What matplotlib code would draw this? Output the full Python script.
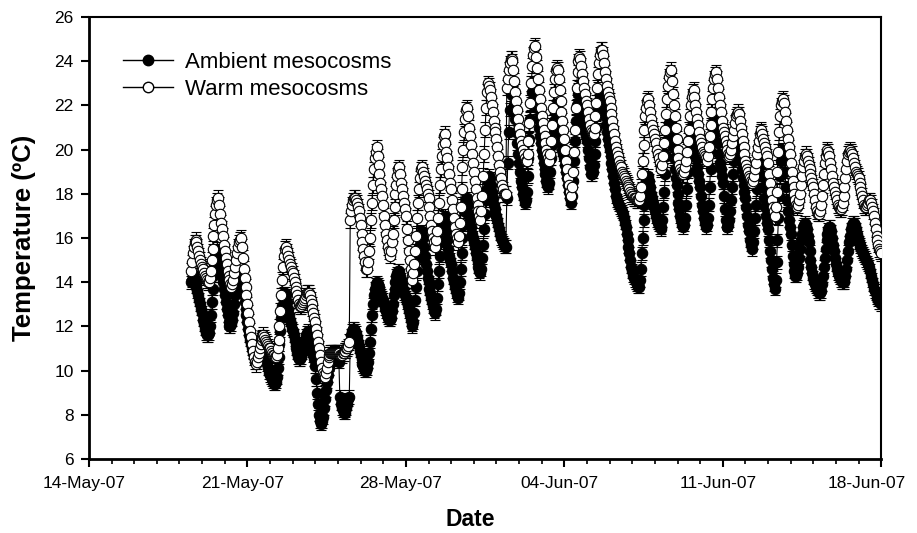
import numpy as np
import pandas as pd
import matplotlib
matplotlib.use("Agg")
import matplotlib.pyplot as plt
import matplotlib.dates as mdates
import matplotlib.transforms as mtransforms
from matplotlib.lines import Line2D

plt.rcParams['font.family'] = ['Liberation Sans', 'DejaVu Sans']

# ============================================================
# DATA  (hourly means; first value 18-May-07 12:00)
# ============================================================
start_time = "2007-05-18 12:00"

ambient = [
    14.0, 14.1, 14.2, 14.2, 14.1, 14.0, 13.8, 13.6, 13.4, 13.2, 13.0, 12.8,  # 18 May (12-23h)
    12.6, 12.3, 12.1, 11.9, 11.7, 11.6, 11.6, 11.7, 12.0, 12.5, 13.1, 13.7, 14.3, 14.8, 15.2, 15.4, 15.5, 15.4, 15.2, 14.9, 14.6, 14.3, 14.0, 13.7,  # 19 May
    13.4, 13.1, 12.8, 12.5, 12.2, 12.0, 12.0, 12.1, 12.3, 12.6, 13.0, 13.4, 13.7, 14.0, 14.2, 14.3, 14.3, 14.2, 14.0, 13.7, 13.4, 13.1, 12.8, 12.5,  # 20 May
    12.2, 11.9, 11.6, 11.4, 11.2, 11.0, 10.8, 10.7, 10.6, 10.6, 10.7, 10.9, 11.1, 11.3, 11.4, 11.5, 11.5, 11.4, 11.2, 10.9, 10.6, 10.3, 10.1, 9.9,  # 21 May
    9.8, 9.7, 9.6, 9.5, 9.4, 9.4, 9.5, 9.7, 10.1, 10.6, 11.2, 11.8, 12.4, 12.9, 13.3, 13.5, 13.5, 13.4, 13.1, 12.8, 12.5, 12.3, 12.1, 11.9,  # 22 May
    11.8, 11.6, 11.4, 11.2, 11.0, 10.8, 10.6, 10.5, 10.5, 10.6, 10.8, 11.0, 11.2, 11.4, 11.6, 11.7, 11.8, 11.7, 11.5, 11.3, 11.1, 10.9, 10.7, 10.5,  # 23 May
    10.2, 9.6, 9.0, 8.5, 8.0, 7.7, 7.6, 7.7, 7.9, 8.3, 8.7, 9.1, 9.5, 9.8, 10.1, 10.3, 10.5, 10.6, 10.6, 10.6, 10.6, 10.6, 10.5, 10.5,  # 24 May
    10.5, 10.4, 8.8, 8.5, 8.3, 8.2, 8.1, 8.1, 8.2, 8.3, 8.5, 8.7, 8.8, 11.3, 11.6, 11.8, 11.9, 11.9, 11.8, 11.7, 11.5, 11.3, 11.1, 10.9,  # 25 May
    10.7, 10.5, 10.3, 10.2, 10.1, 10.0, 10.0, 10.1, 10.4, 10.8, 11.3, 11.9, 12.5, 13.0, 13.4, 13.7, 13.9, 14.0, 13.9, 13.8, 13.6, 13.5, 13.4, 13.3,  # 26 May
    13.2, 13.0, 12.8, 12.7, 12.5, 12.4, 12.3, 12.3, 12.4, 12.7, 13.0, 13.4, 13.7, 14.0, 14.3, 14.4, 14.5, 14.5, 14.3, 14.1, 13.9, 13.7, 13.5, 13.4,  # 27 May
    13.3, 13.1, 12.9, 12.7, 12.5, 12.3, 12.1, 12.0, 12.2, 12.6, 13.2, 13.8, 14.5, 15.1, 15.6, 16.0, 16.2, 16.3, 16.0, 15.6, 15.2, 14.8, 14.5, 14.2,  # 28 May
    14.0, 13.7, 13.5, 13.3, 13.1, 12.9, 12.7, 12.6, 12.8, 13.3, 13.9, 14.5, 15.2, 15.8, 16.4, 16.7, 16.9, 17.0, 16.7, 16.3, 15.9, 15.5, 15.2, 15.0,  # 29 May
    14.8, 14.5, 14.2, 14.0, 13.8, 13.6, 13.4, 13.3, 13.5, 14.0, 14.6, 15.3, 16.0, 16.6, 17.2, 17.5, 17.7, 17.8, 17.5, 17.1, 16.8, 16.5, 16.2, 16.0,  # 30 May
    15.8, 15.6, 15.3, 15.1, 14.9, 14.7, 14.5, 14.4, 14.6, 15.1, 15.7, 16.4, 17.1, 17.7, 18.2, 18.6, 18.8, 18.7, 18.4, 18.1, 17.8, 17.5, 17.3, 17.1,  # 31 May
    17.0, 16.8, 16.6, 16.4, 16.2, 16.0, 15.9, 15.8, 15.7, 15.6, 15.6, 17.8, 19.4, 20.8, 21.8, 22.5, 22.9, 23.0, 22.6, 22.0, 21.4, 20.8, 20.3, 19.8,  # 01 Jun
    19.4, 19.0, 18.6, 18.3, 18.0, 17.8, 17.6, 17.7, 18.1, 18.8, 19.6, 20.5, 21.4, 22.1, 22.6, 22.9, 23.0, 22.8, 22.4, 21.9, 21.4, 21.0, 20.6, 20.3,  # 02 Jun
    20.0, 19.7, 19.4, 19.1, 18.9, 18.6, 18.4, 18.3, 18.5, 19.0, 19.6, 20.2, 20.8, 21.3, 21.7, 21.9, 22.0, 21.8, 21.4, 21.0, 20.6, 20.3, 20.0, 19.8,  # 03 Jun
    19.6, 19.3, 19.0, 18.7, 18.4, 18.1, 17.8, 17.6, 17.9, 18.6, 19.5, 20.4, 21.3, 22.0, 22.5, 22.7, 22.8, 22.6, 22.2, 21.8, 21.4, 21.1, 20.8, 20.6,  # 04 Jun
    20.4, 20.0, 19.6, 19.2, 18.9, 18.9, 19.0, 19.3, 19.8, 20.4, 21.0, 21.5, 21.9, 22.2, 22.4, 22.5, 22.4, 22.2, 21.9, 21.5, 21.1, 20.8, 20.5, 20.2,  # 05 Jun
    20.0, 19.7, 19.4, 19.1, 18.8, 18.5, 18.2, 17.9, 17.7, 17.6, 17.5, 17.4, 17.3, 17.2, 17.1, 16.9, 16.7, 16.5, 16.2, 15.9, 15.6, 15.3, 15.0, 14.7,  # 06 Jun
    14.5, 14.3, 14.2, 14.1, 14.0, 13.9, 13.8, 13.8, 14.1, 14.6, 15.3, 16.0, 16.8, 17.5, 18.0, 18.4, 18.7, 18.8, 18.6, 18.3, 18.0, 17.8, 17.6, 17.4,  # 07 Jun
    17.2, 17.0, 16.8, 16.7, 16.6, 16.5, 16.4, 16.5, 16.8, 17.4, 18.1, 18.9, 19.7, 20.4, 20.9, 21.2, 21.3, 21.1, 20.6, 20.1, 19.6, 19.1, 18.7, 18.4,  # 08 Jun
    18.0, 17.6, 17.3, 17.0, 16.8, 16.6, 16.5, 16.6, 16.9, 17.5, 18.2, 19.0, 19.7, 20.3, 20.7, 20.9, 21.0, 20.8, 20.4, 20.0, 19.6, 19.2, 18.9, 18.6,  # 09 Jun
    18.3, 17.9, 17.5, 17.2, 16.9, 16.7, 16.5, 16.6, 16.9, 17.5, 18.3, 19.1, 19.9, 20.6, 21.1, 21.4, 21.5, 21.3, 20.8, 20.3, 19.8, 19.4, 19.1, 18.8,  # 10 Jun
    18.5, 17.9, 17.3, 16.8, 16.5, 16.5, 16.6, 16.8, 17.2, 17.7, 18.3, 18.9, 19.5, 19.9, 20.2, 20.4, 20.5, 20.3, 19.9, 19.5, 19.1, 18.7, 18.4, 18.1,  # 11 Jun
    17.8, 17.4, 17.0, 16.6, 16.3, 15.9, 15.7, 15.5, 15.8, 16.3, 16.9, 17.5, 18.2, 18.8, 19.2, 19.4, 19.5, 19.3, 18.8, 18.3, 17.8, 17.4, 17.0, 16.7,  # 12 Jun
    16.4, 15.9, 15.4, 15.0, 14.6, 14.2, 13.9, 13.7, 14.1, 14.9, 15.9, 16.9, 17.9, 18.8, 19.5, 19.9, 20.0, 19.6, 19.0, 18.3, 17.7, 17.2, 16.8, 16.5,  # 13 Jun
    16.2, 15.7, 15.2, 14.8, 14.5, 14.3, 14.3, 14.4, 14.7, 15.1, 15.5, 15.9, 16.2, 16.5, 16.6, 16.7, 16.6, 16.4, 16.1, 15.8, 15.4, 15.0, 14.7, 14.4,  # 14 Jun
    14.2, 14.0, 13.9, 13.8, 13.7, 13.6, 13.5, 13.5, 13.6, 13.9, 14.3, 14.7, 15.1, 15.5, 15.9, 16.2, 16.4, 16.5, 16.5, 16.3, 16.0, 15.7, 15.4, 15.1,  # 15 Jun
    14.8, 14.6, 14.4, 14.3, 14.2, 14.1, 14.0, 14.0, 14.0, 14.1, 14.3, 14.6, 15.0, 15.4, 15.8, 16.1, 16.4, 16.6, 16.7, 16.7, 16.6, 16.4, 16.2, 16.0,  # 16 Jun
    15.8, 15.7, 15.6, 15.5, 15.4, 15.3, 15.2, 15.1, 15.0, 14.9, 14.8, 14.7, 14.5, 14.3, 14.1, 13.9, 13.7, 13.6, 13.5, 13.4, 13.3, 13.2, 13.1, 13.1,  # 17 Jun
    13.0,  # 18 Jun 00h
]

warm = [
    14.5, 14.9, 15.3, 15.6, 15.8, 15.9, 15.8, 15.6, 15.4, 15.2, 15.0, 14.8,  # 18 May (12-23h)
    14.7, 14.6, 14.4, 14.3, 14.2, 14.1, 14.0, 14.0, 14.2, 14.5, 15.0, 15.5, 16.1, 16.6, 17.1, 17.5, 17.7, 17.8, 17.5, 17.1, 16.7, 16.4, 16.1, 15.7,  # 19 May
    15.4, 15.1, 14.8, 14.5, 14.3, 14.1, 13.9, 13.8, 13.9, 14.1, 14.4, 14.7, 15.0, 15.3, 15.6, 15.8, 15.9, 16.0, 15.6, 15.1, 14.6, 14.2, 13.8, 13.4,  # 20 May
    13.0, 12.6, 12.2, 11.8, 11.5, 11.2, 10.9, 10.6, 10.4, 10.3, 10.4, 10.6, 10.8, 11.0, 11.2, 11.4, 11.5, 11.6, 11.5, 11.4, 11.3, 11.2, 11.1, 11.0,  # 21 May
    11.0, 10.9, 10.8, 10.7, 10.7, 10.6, 10.6, 10.7, 11.0, 11.4, 12.0, 12.7, 13.4, 14.1, 14.7, 15.2, 15.5, 15.6, 15.4, 15.2, 15.0, 14.8, 14.7, 14.5,  # 22 May
    14.4, 14.2, 14.0, 13.8, 13.6, 13.4, 13.2, 13.0, 12.9, 12.9, 13.0, 13.1, 13.2, 13.3, 13.4, 13.5, 13.5, 13.5, 13.4, 13.2, 13.0, 12.8, 12.6, 12.4,  # 23 May
    12.2, 11.9, 11.6, 11.3, 11.0, 10.7, 10.4, 10.1, 9.9, 9.8, 9.7, 9.9, 10.1, 10.4, 10.6, 10.7, 10.8, 10.8, 10.8, 10.8, 10.8, 10.8, 10.8, 10.8,  # 24 May
    10.8, 10.8, 10.7, 10.7, 10.7, 10.8, 10.8, 10.9, 10.9, 11.0, 11.0, 11.1, 11.3, 16.8, 17.2, 17.5, 17.7, 17.8, 17.8, 17.7, 17.6, 17.4, 17.2, 16.9,  # 25 May
    16.6, 16.2, 15.8, 15.5, 15.2, 14.9, 14.6, 14.6, 14.9, 15.4, 16.0, 16.8, 17.6, 18.4, 19.1, 19.6, 19.9, 20.1, 19.7, 19.3, 18.9, 18.5, 18.2, 17.9,  # 26 May
    17.5, 17.0, 16.6, 16.2, 15.9, 15.6, 15.4, 15.2, 15.4, 15.8, 16.2, 16.8, 17.4, 18.0, 18.4, 18.8, 19.1, 19.2, 18.9, 18.5, 18.2, 17.9, 17.6, 17.3,  # 27 May
    17.0, 16.4, 15.9, 15.4, 15.0, 14.6, 14.3, 14.1, 14.4, 14.8, 15.4, 16.1, 16.9, 17.6, 18.2, 18.7, 19.1, 19.2, 19.0, 18.8, 18.6, 18.4, 18.2, 18.0,  # 28 May
    17.8, 17.4, 17.0, 16.6, 16.3, 16.0, 15.8, 15.6, 15.9, 16.3, 16.9, 17.6, 18.4, 19.1, 19.7, 20.2, 20.6, 20.7, 20.3, 19.9, 19.6, 19.2, 18.9, 18.5,  # 29 May
    18.2, 17.7, 17.3, 16.9, 16.5, 16.2, 16.0, 15.8, 16.1, 16.7, 17.4, 18.2, 19.2, 20.0, 20.8, 21.4, 21.8, 21.9, 21.5, 21.0, 20.6, 20.2, 19.8, 19.4,  # 30 May
    19.0, 18.6, 18.2, 17.8, 17.5, 17.2, 17.0, 16.8, 17.2, 17.9, 18.8, 19.8, 20.9, 21.9, 22.6, 23.0, 22.9, 22.7, 22.4, 22.0, 21.7, 21.3, 21.0, 20.8,  # 31 May
    20.5, 20.1, 19.7, 19.3, 19.0, 18.7, 18.4, 18.2, 18.0, 18.0, 18.0, 22.8, 23.2, 23.6, 23.9, 24.1, 24.1, 24.0, 23.6, 23.1, 22.6, 22.2, 21.8, 21.4,  # 01 Jun
    21.0, 20.7, 20.4, 20.2, 20.0, 19.8, 19.6, 19.5, 19.5, 19.8, 20.4, 21.2, 22.1, 23.0, 23.8, 24.3, 24.6, 24.7, 24.2, 23.7, 23.2, 22.7, 22.3, 21.9,  # 02 Jun
    21.5, 21.2, 20.9, 20.6, 20.3, 20.0, 19.8, 19.6, 19.5, 19.8, 20.4, 21.1, 21.9, 22.6, 23.2, 23.6, 23.7, 23.6, 23.2, 22.7, 22.2, 21.7, 21.3, 20.9,  # 03 Jun
    20.5, 20.0, 19.5, 19.1, 18.7, 18.4, 18.1, 17.9, 18.3, 19.0, 19.9, 20.9, 21.9, 22.8, 23.5, 24.0, 24.2, 24.1, 23.8, 23.4, 23.1, 22.8, 22.5, 22.2,  # 04 Jun
    22.0, 21.7, 21.4, 21.1, 20.9, 20.8, 20.7, 20.7, 21.0, 21.5, 22.1, 22.8, 23.4, 23.9, 24.3, 24.5, 24.5, 24.3, 23.9, 23.5, 23.2, 22.9, 22.6, 22.4,  # 05 Jun
    22.2, 21.9, 21.6, 21.3, 21.0, 20.7, 20.4, 20.1, 19.9, 19.7, 19.5, 19.3, 19.2, 19.0, 18.9, 18.8, 18.7, 18.6, 18.5, 18.4, 18.3, 18.2, 18.1, 18.0,  # 06 Jun
    17.9, 17.9, 17.8, 17.8, 17.8, 17.7, 17.7, 17.7, 17.9, 18.3, 18.9, 19.5, 20.2, 20.9, 21.5, 21.9, 22.2, 22.3, 22.0, 21.7, 21.4, 21.1, 20.9, 20.7,  # 07 Jun
    20.5, 20.3, 20.0, 19.8, 19.6, 19.4, 19.2, 19.1, 19.3, 19.7, 20.3, 20.9, 21.6, 22.3, 22.9, 23.3, 23.5, 23.6, 23.1, 22.5, 22.0, 21.5, 21.0, 20.5,  # 08 Jun
    20.0, 19.6, 19.3, 19.1, 19.0, 18.9, 18.9, 19.0, 19.2, 19.5, 19.9, 20.4, 20.9, 21.5, 22.0, 22.4, 22.6, 22.7, 22.4, 22.0, 21.7, 21.4, 21.1, 20.8,  # 09 Jun
    20.5, 20.3, 20.1, 19.9, 19.8, 19.7, 19.6, 19.5, 19.7, 20.1, 20.6, 21.1, 21.7, 22.3, 22.8, 23.2, 23.4, 23.5, 23.2, 22.8, 22.4, 22.0, 21.7, 21.3,  # 10 Jun
    21.0, 20.8, 20.6, 20.4, 20.2, 20.0, 19.8, 19.7, 19.8, 20.0, 20.3, 20.6, 20.9, 21.2, 21.5, 21.6, 21.7, 21.6, 21.3, 21.0, 20.7, 20.4, 20.1, 19.8,  # 11 Jun
    19.5, 19.3, 19.1, 19.0, 18.8, 18.7, 18.6, 18.5, 18.6, 18.8, 19.1, 19.4, 19.8, 20.1, 20.4, 20.7, 20.8, 20.9, 20.7, 20.5, 20.3, 20.1, 19.9, 19.7,  # 12 Jun
    19.4, 18.9, 18.5, 18.1, 17.7, 17.4, 17.2, 17.0, 17.4, 18.1, 19.0, 19.9, 20.8, 21.5, 22.0, 22.2, 22.3, 22.1, 21.7, 21.3, 20.9, 20.5, 20.1, 19.8,  # 13 Jun
    19.4, 19.0, 18.6, 18.3, 18.0, 17.7, 17.5, 17.4, 17.5, 17.7, 18.0, 18.4, 18.8, 19.2, 19.5, 19.7, 19.8, 19.7, 19.5, 19.3, 19.1, 18.9, 18.7, 18.5,  # 14 Jun
    18.3, 18.0, 17.7, 17.4, 17.2, 17.1, 17.1, 17.2, 17.5, 17.9, 18.4, 18.9, 19.4, 19.7, 19.9, 20.0, 19.9, 19.7, 19.4, 19.1, 18.8, 18.5, 18.3, 18.1,  # 15 Jun
    17.9, 17.7, 17.5, 17.4, 17.3, 17.3, 17.4, 17.6, 17.9, 18.3, 18.7, 19.1, 19.5, 19.8, 19.9, 20.0, 19.9, 19.8, 19.6, 19.4, 19.2, 19.0, 18.9, 18.8,  # 16 Jun
    18.7, 18.5, 18.3, 18.1, 17.9, 17.7, 17.5, 17.4, 17.4, 17.5, 17.6, 17.7, 17.7, 17.6, 17.4, 17.2, 17.0, 16.7, 16.4, 16.1, 15.9, 15.7, 15.5, 15.4,  # 17 Jun
    15.3,  # 18 Jun 00h
]

# standard errors (roughly constant in the figure)
ambient_se = 0.30
warm_se = 0.35

labels = ["Ambient mesocosms", "Warm mesocosms"]

assert len(ambient) == len(warm)
times = pd.date_range(start_time, periods=len(ambient), freq="h")

# ============================================================
# PLOT
# ============================================================
fig = plt.figure(figsize=(9.17, 5.33), dpi=100)
ax = fig.add_axes([0.097, 0.139, 0.864, 0.829])

common = dict(fmt="-o", color="black", mec="black", ms=7.5, mew=0.8,
              lw=0.8, elinewidth=0.8, capsize=3.5, capthick=0.8)
ax.errorbar(times, ambient, yerr=ambient_se, mfc="black", zorder=2, **common)
ax.errorbar(times, warm, yerr=warm_se, mfc="white", zorder=3, **common)

# axes limits / ticks
ax.set_xlim(pd.Timestamp("2007-05-14"), pd.Timestamp("2007-06-18"))
ax.set_ylim(6, 26)
ax.set_yticks(np.arange(6, 27, 2))
major_dates = pd.date_range("2007-05-14", "2007-06-18", freq="7D")
ax.set_xticks(major_dates)
ax.xaxis.set_minor_locator(mdates.DayLocator())
ax.xaxis.set_major_formatter(mdates.DateFormatter("%d-%b-%y"))

ax.tick_params(axis="both", which="major", direction="out", labelsize=12.5, width=1.5)
ax.tick_params(axis="x", which="major", length=6, pad=6)
ax.tick_params(axis="x", which="minor", direction="out", length=3.5, width=1.2)
ax.tick_params(axis="y", which="major", length=6, pad=5)

# date labels sit slightly left of their ticks in the original
fig.canvas.draw()
shift = mtransforms.ScaledTranslation(-5 / 100, 0, fig.dpi_scale_trans)
xlabels = ax.get_xticklabels()
for lab in xlabels:
    lab.set_transform(lab.get_transform() + shift)
last_shift = mtransforms.ScaledTranslation(-9 / 100, 0, fig.dpi_scale_trans)
xlabels[-1].set_transform(xlabels[-1].get_transform() + last_shift)

for side in ["left", "bottom"]:
    ax.spines[side].set_linewidth(2.0)
for side in ["top", "right"]:
    ax.spines[side].set_linewidth(1.5)

ax.set_xlabel("Date", fontsize=16.5, fontweight="bold")
ax.xaxis.set_label_coords(0.481, -0.111)
ax.set_ylabel("Temperature (ºC)", fontsize=18.5, fontweight="bold", labelpad=13)

handles = [
    Line2D([], [], color="black", lw=1.0, marker="o", ms=7.5, mfc="black", mec="black"),
    Line2D([], [], color="black", lw=1.0, marker="o", ms=7.5, mfc="white", mec="black"),
]
ax.legend(handles, labels, loc="upper left", bbox_to_anchor=(0.043, 0.921),
          frameon=False, fontsize=16, handlelength=2.25, handletextpad=0.55,
          labelspacing=0.25, borderpad=0, borderaxespad=0)

fig.savefig("out.png", dpi=100)
